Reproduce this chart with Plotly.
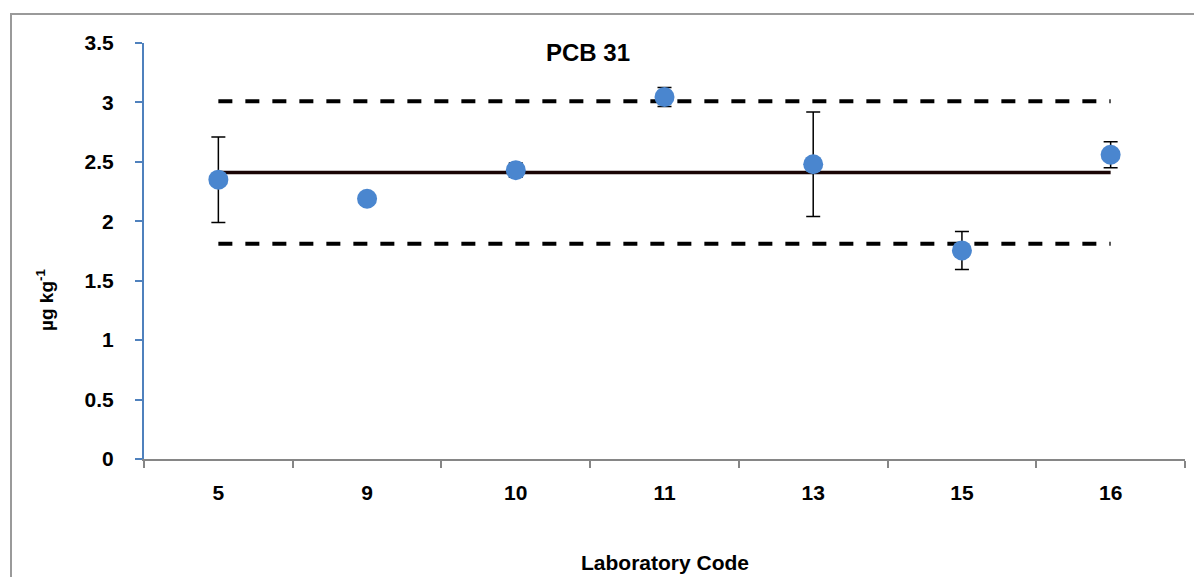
import plotly.graph_objects as go

labs = ["5", "9", "10", "11", "13", "15", "16"]
values = [2.35, 2.19, 2.43, 3.045, 2.48, 1.755, 2.56]
errors = [0.36, 0.0, 0.06, 0.08, 0.44, 0.16, 0.11]
assigned = 2.41
upper = 3.01
lower = 1.81

FONT = "Liberation Sans"
fig = go.Figure()

fig.add_trace(go.Scatter(x=[labs[0], labs[-1]], y=[upper, upper], mode="lines",
                         line=dict(color="black", width=4, dash="14px,13px"),
                         showlegend=False, hoverinfo="skip"))
fig.add_trace(go.Scatter(x=[labs[0], labs[-1]], y=[lower, lower], mode="lines",
                         line=dict(color="black", width=4, dash="14px,13px"),
                         showlegend=False, hoverinfo="skip"))
fig.add_trace(go.Scatter(x=[labs[0], labs[-1]], y=[assigned, assigned], mode="lines",
                         line=dict(color="#1a0505", width=3.5),
                         showlegend=False, hoverinfo="skip"))
fig.add_trace(go.Scatter(x=labs, y=values, mode="markers",
                         marker=dict(color="#4A86CF", size=20, line=dict(width=0)),
                         error_y=dict(type="data", array=errors, visible=True,
                                      color="black", thickness=1.5, width=7),
                         showlegend=False))

# page body has an 8px margin: figure origin sits at (8, 8) in the window
fig.update_layout(
    width=1194, height=569,
    margin=dict(l=136, r=17, t=35, b=118),
    paper_bgcolor="white", plot_bgcolor="white",
    font=dict(family=FONT, color="black"),
    xaxis=dict(type="category", categoryorder="array", categoryarray=labs,
               range=[-0.5, 6.5], showgrid=False, zeroline=False,
               showline=True, linecolor="#868686", linewidth=2,
               ticks="outside", tickson="boundaries", ticklen=7, tickcolor="#868686",
               tickwidth=2, tickfont=dict(size=21, family=FONT, weight="bold"),
               ticklabelstandoff=14),
    yaxis=dict(range=[0, 3.5], dtick=0.5, tick0=0, showgrid=False, zeroline=False,
               showline=True, linecolor="#4F81BD", linewidth=2,
               ticks="outside", ticklen=7, tickcolor="#4F81BD", tickwidth=2,
               tickfont=dict(size=21, family=FONT, weight="bold"), ticklabelstandoff=17),
    annotations=[
        dict(text="<b>PCB 31</b>", x=(588 - 144) / 1041, y=(459 - 52) / 416,
             xref="paper", yref="paper", showarrow=False,
             xanchor="center", yanchor="middle",
             font=dict(size=24, family=FONT)),
        dict(text="<b>Laboratory Code</b>", x=0.5, y=(459 - 562) / 416,
             xref="paper", yref="paper", showarrow=False,
             xanchor="center", yanchor="middle",
             font=dict(size=21, family=FONT)),
        dict(text="<b>µg kg<sup>-1</sup></b>", x=(45 - 144) / 1041, y=(459 - 300) / 416,
             xref="paper", yref="paper", showarrow=False, textangle=-90,
             xanchor="center", yanchor="middle",
             font=dict(size=19, family=FONT)),
    ],
    shapes=[dict(type="rect", xref="paper", yref="paper",
                 x0=(11 - 144) / 1041, x1=(1215 - 144) / 1041,
                 y0=(459 - 600) / 416, y1=(459 - 14) / 416,
                 line=dict(color="#9a9a9a", width=2), fillcolor="rgba(0,0,0,0)",
                 layer="below")],
)

fig.write_html("out.html")
